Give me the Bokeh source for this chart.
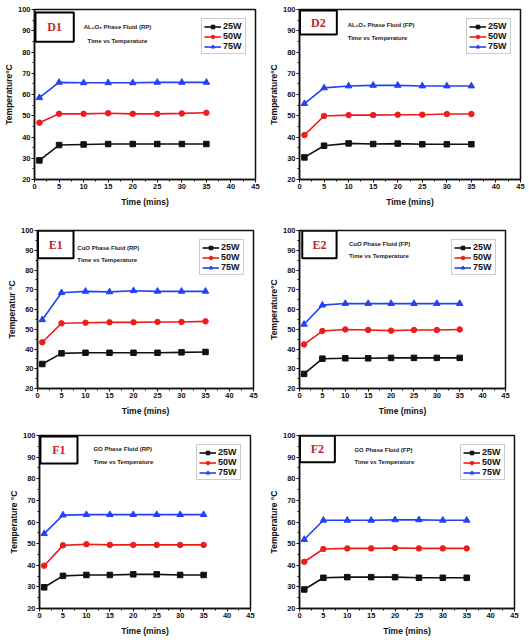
from bokeh.plotting import figure
from bokeh.layouts import column, row
from bokeh.models import BoxAnnotation, Label, SingleIntervalTicker, Range1d
from bokeh.embed import file_html
from bokeh.resources import INLINE

# ---------------- data ----------------
time_mins = [1, 5, 10, 15, 20, 25, 30, 35]
series_labels = ["25W", "50W", "75W"]

d1_25w = [29.0, 36.2, 36.5, 36.7, 36.7, 36.7, 36.7, 36.7]
d1_50w = [46.7, 50.9, 50.9, 51.2, 50.9, 50.9, 51.1, 51.4]
d1_75w = [58.5, 65.7, 65.5, 65.5, 65.5, 65.7, 65.7, 65.7]

d2_25w = [30.4, 35.9, 37.0, 36.7, 36.9, 36.6, 36.6, 36.6]
d2_50w = [40.9, 49.9, 50.3, 50.3, 50.5, 50.5, 50.8, 50.8]
d2_75w = [55.7, 63.1, 64.0, 64.3, 64.3, 64.0, 64.0, 64.0]

e1_25w = [32.4, 37.8, 38.1, 38.1, 38.1, 38.1, 38.3, 38.5]
e1_50w = [43.4, 53.0, 53.3, 53.5, 53.5, 53.7, 53.7, 54.0]
e1_75w = [54.8, 68.5, 69.2, 68.9, 69.5, 69.2, 69.2, 69.2]

e2_25w = [27.4, 35.1, 35.3, 35.3, 35.5, 35.5, 35.5, 35.5]
e2_50w = [42.3, 49.1, 49.9, 49.6, 49.3, 49.6, 49.6, 49.9]
e2_75w = [52.5, 62.2, 63.0, 63.0, 63.0, 63.0, 63.0, 63.0]

f1_25w = [29.8, 35.1, 35.5, 35.5, 35.8, 35.8, 35.5, 35.5]
f1_50w = [39.8, 49.2, 49.7, 49.4, 49.4, 49.4, 49.4, 49.4]
f1_75w = [54.6, 63.2, 63.4, 63.4, 63.4, 63.4, 63.4, 63.4]

f2_25w = [28.8, 34.2, 34.5, 34.5, 34.5, 34.2, 34.2, 34.2]
f2_50w = [41.6, 47.5, 47.8, 47.8, 48.0, 47.8, 47.8, 47.8]
f2_75w = [51.9, 60.8, 60.8, 60.8, 61.0, 61.0, 60.8, 60.8]

panel_ids = ["D1", "D2", "E1", "E2", "F1", "F2"]
panel_titles = ["AL\u2082O\u2083 Phase Fluid (RP)", "AL\u2082O\u2083 Phase Fluid (FP)",
                "CuO Phase Fluid (RP)", "CuO Phase Fluid (FP)",
                "GO Phase Fluid (RP)", "GO Phase Fluid (FP)"]
panel_subtitle = "Time vs Temperature"
y_axis_labels = ["Temperature\u00b0C", "Temperature\u00b0C", "Temperatur \u00b0C",
                 "Temperature\u00b0C", "Temperature \u00b0C", "Temperature \u00b0C"]
x_axis_label = "Time (mins)"
panel_series = [
    [d1_25w, d1_50w, d1_75w],
    [d2_25w, d2_50w, d2_75w],
    [e1_25w, e1_50w, e1_75w],
    [e2_25w, e2_50w, e2_75w],
    [f1_25w, f1_50w, f1_75w],
    [f2_25w, f2_50w, f2_75w],
]

# ---------------- style / layout ----------------
colors = ["#111111", "#ee1c1c", "#2343f0"]
markers = ["square", "circle", "triangle"]
msizes = [5.5, 5.5, 6.5]

# w, h, border left/right/top/bottom
layout = [
    (265, 218, 34, 10, 9, 35),
    (263, 218, 30, 8, 9, 39),
    (265, 210, 37, 12, 12, 39),
    (263, 210, 24, 23, 11, 40),
    (265, 210, 39, 15, 7, 29),
    (263, 210, 25, 14, 7, 29),
]
# id box (left, right, top, bottom) in data units
boxes = [
    (0.2, 8.0, 98.6, 84.8),
    (0.1, 7.6, 99.5, 88.2),
    (0.1, 7.5, 99.9, 85.9),
    (0.6, 8.1, 99.9, 85.9),
    (0.2, 8.1, 99.5, 87.1),
    (0.1, 7.4, 99.9, 87.6),
]
# title text (x, y1, y2, align)
texts = [
    (16.9, 91.7, 85.3, "center"),
    (9.8, 92.9, 86.4, "left"),
    (8.3, 91.0, 84.9, "left"),
    (10.8, 93.0, 86.9, "left"),
    (11.5, 93.6, 87.6, "left"),
    (11.5, 93.1, 87.6, "left"),
]

FONT = "Liberation Sans"


def make_panel(i):
    w, h, bl, br, bt, bb = layout[i]
    p = figure(width=w, height=h, min_border_left=bl, min_border_right=br,
               min_border_top=bt, min_border_bottom=bb, title=None,
               x_range=Range1d(0, 45), y_range=Range1d(20, 100),
               output_backend="svg", toolbar_location=None,
               background_fill_color="white", border_fill_color="white")
    p.xgrid.visible = False
    p.ygrid.visible = False
    p.outline_line_color = "#111111"
    p.outline_line_width = 1.5

    p.xaxis.ticker = SingleIntervalTicker(interval=5, num_minor_ticks=2)
    p.yaxis.ticker = SingleIntervalTicker(interval=10, num_minor_ticks=2)
    for ax in (p.xaxis[0], p.yaxis[0]):
        ax.axis_line_width = 1.5
        ax.axis_line_color = "#111111"
        ax.major_tick_line_color = "#111111"
        ax.minor_tick_line_color = "#111111"
        ax.major_tick_out = 3
        ax.major_tick_in = 0
        ax.minor_tick_out = 2
        ax.minor_tick_in = 0
        ax.major_label_text_font = FONT
        ax.major_label_text_font_style = "bold"
        ax.major_label_text_font_size = "7.5px"
        ax.major_label_text_color = "#111111"
        ax.major_label_standoff = 1
        ax.axis_label_text_font = FONT
        ax.axis_label_text_font_style = "bold"
        ax.axis_label_text_color = "#111111"
    p.xaxis.axis_label = x_axis_label
    p.xaxis.axis_label_text_font_size = "8.5px"
    p.xaxis.axis_label_standoff = 5
    p.yaxis.axis_label = y_axis_labels[i]
    p.yaxis.axis_label_text_font_size = "8.5px"
    p.yaxis.axis_label_standoff = 1

    for k, vals in enumerate(panel_series[i]):
        p.line(time_mins, vals, line_color=colors[k], line_width=1.6,
               legend_label=series_labels[k])
        p.scatter(time_mins, vals, marker=markers[k], size=msizes[k],
                  fill_color=colors[k], line_color=colors[k],
                  legend_label=series_labels[k])

    lg = p.legend[0]
    lg.location = "top_right"
    lg.margin = 9
    lg.padding = 2
    lg.spacing = 0
    lg.glyph_width = 17
    lg.glyph_height = 9
    lg.label_height = 9
    lg.label_standoff = 2
    lg.label_text_font = FONT
    lg.label_text_font_style = "bold"
    lg.label_text_font_size = "9px"
    lg.label_text_color = "#111111"
    lg.border_line_color = "#999999"
    lg.border_line_width = 1
    lg.background_fill_alpha = 1.0

    bx = boxes[i]
    p.add_layout(BoxAnnotation(left=bx[0], right=bx[1], top=bx[2], bottom=bx[3],
                               fill_color="white", fill_alpha=1.0,
                               line_color="#000000", line_alpha=1.0, line_width=2))
    p.add_layout(Label(x=(bx[0] + bx[1]) / 2, y=(bx[2] + bx[3]) / 2, text=panel_ids[i],
                       text_align="center", text_baseline="middle",
                       text_font="Liberation Serif", text_font_style="bold",
                       text_font_size="12px", text_color="#c0272d"))
    tx, ty1, ty2, al = texts[i]
    for ty, t in ((ty1, panel_titles[i]), (ty2, panel_subtitle)):
        p.add_layout(Label(x=tx, y=ty, text=t, text_align=al, text_baseline="middle",
                           text_font=FONT, text_font_style="bold",
                           text_font_size="6px", text_color="#222222"))
    return p


figs = [make_panel(i) for i in range(6)]
page = column(row(figs[0], figs[1]), row(figs[2], figs[3]), row(figs[4], figs[5]))

open("out.html", "w").write(file_html(page, INLINE))
